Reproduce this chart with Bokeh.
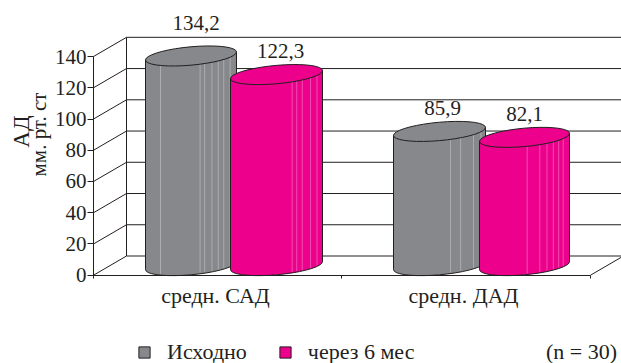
import numpy as np
from bokeh.core.properties import value
from bokeh.embed import file_html
from bokeh.models import FixedTicker, Label, Legend, LegendItem, LinearAxis
from bokeh.plotting import figure
from bokeh.resources import INLINE

# Blood pressure before treatment and after six months
categories = ["средн. САД", "средн. ДАД"]
baseline = [134.2, 85.9]
after_6m = [122.3, 82.1]
series_names = ["Исходно", "через 6 мес"]
y_ticks = [0, 20, 40, 60, 80, 100, 120, 140]

INK = "#231f20"
GREY = "#87888c"
PINK = "#ec008c"
SERIF = "Liberation Serif"

PX_PER_UNIT = 1.562          # vertical pixels per mm Hg
ZERO_PX = 274.7              # pixel row of the value 0 on the front plane
DEPTH_X, DEPTH_Y = 33, 19.2  # offset of the back wall, in pixels
LEFT, FLOOR_END, RIGHT = 93, 590, 621
LIFT = (DEPTH_Y / 2) / PX_PER_UNIT  # cylinders stand half way back
RY, TILT = 9.2, 4.0          # top ellipse half height and slant, in pixels


def row(py):
    """Value-axis coordinate of a pixel row."""
    return (ZERO_PX - py) / PX_PER_UNIT


p = figure(
    width=621, height=363, output_backend="svg", toolbar_location=None,
    x_range=(0, RIGHT), y_range=(row(363), row(0)),
    x_axis_location=None, y_axis_location=None,
    min_border=0, outline_line_color=None,
    background_fill_color="white", border_fill_color="white",
)
p.grid.visible = False

# Value axis pinned to the front plane
ya = LinearAxis(fixed_location=LEFT)
ya.ticker = FixedTicker(ticks=y_ticks)
ya.bounds = (y_ticks[0], y_ticks[-1])
ya.axis_line_color = INK
ya.major_tick_line_color = INK
ya.major_tick_out = 6
ya.major_tick_in = 0
ya.minor_tick_line_color = None
ya.major_label_standoff = 1
ya.major_label_text_font = SERIF
ya.major_label_text_font_size = "21px"
ya.major_label_text_color = INK
p.add_layout(ya, "left")

# Category axis: labels at group centres, tick marks between the groups
group_x = [215, 463]
xa = LinearAxis(fixed_location=0)
xa.ticker = FixedTicker(ticks=group_x, minor_ticks=[LEFT, 341, FLOOR_END])
xa.major_label_overrides = dict(zip(group_x, categories))
xa.bounds = (LEFT, FLOOR_END)
xa.axis_line_color = INK
xa.major_tick_line_color = None
xa.minor_tick_line_color = INK
xa.minor_tick_out = 3
xa.minor_tick_in = 0
xa.major_label_standoff = 2
xa.major_label_text_font = SERIF
xa.major_label_text_font_size = "22px"
xa.major_label_text_color = INK
p.add_layout(xa, "below")

# Back wall, side wall and floor
back_y = [v + DEPTH_Y / PX_PER_UNIT for v in y_ticks]
p.segment([LEFT + DEPTH_X] * len(back_y), back_y, [RIGHT] * len(back_y), back_y,
          line_color=INK, line_width=1)
p.segment([LEFT] * len(y_ticks), y_ticks, [LEFT + DEPTH_X] * len(y_ticks), back_y,
          line_color=INK, line_width=1)
p.segment([LEFT + DEPTH_X], [back_y[0]], [LEFT + DEPTH_X], [back_y[-1]],
          line_color=INK, line_width=1)
p.segment([FLOOR_END], [0], [FLOOR_END + DEPTH_X], [back_y[0]],
          line_color=INK, line_width=1)

# Horizontal extents of the cylinders and their facet edges (fractions of the width)
bar_spans = {
    "base": [(145, 236), (393, 485)],
    "after": [(230, 322), (479, 569)],
}
facets = {
    "base": [[.165, .6, .65, .73, .8, .86, .93], [.62, .73, .87, .95]],
    "after": [[.67, .72, .78, .87, .94], [.53, .67, .75, .82, .88, .93]],
}
label_gap = {"base": [24, 14], "after": [14, 14]}
label_dx = {"base": [5, 3], "after": [4, 0]}


def outlines(x0, x1, val):
    """Side wall and top ellipse of a cylinder of height val."""
    cx, a = (x0 + x1) / 2, (x1 - x0) / 2
    t = np.linspace(0, 2 * np.pi, 37)
    top = val + LIFT
    ex = cx + a * np.cos(t)
    ey = top + (TILT * np.cos(t) + RY * np.sin(t)) / PX_PER_UNIT
    low = np.linspace(np.pi, 2 * np.pi, 19)
    bx = cx + a * np.cos(low)
    by = LIFT + (TILT * np.cos(low) + RY * np.sin(low)) / PX_PER_UNIT
    side_x = np.r_[cx - a, bx, cx + a]
    side_y = np.r_[top - TILT / PX_PER_UNIT, by, top + TILT / PX_PER_UNIT]
    return side_x, side_y, ex, ey


def draw_series(key, values, color):
    renderer = None
    for i, val in enumerate(values):
        x0, x1 = bar_spans[key][i]
        sx, sy, ex, ey = outlines(x0, x1, val)
        renderer = p.patch(sx, sy, fill_color=color, line_color=INK, line_width=1)
        # Facet edges follow the front of the cylinder
        cx, a = (x0 + x1) / 2, (x1 - x0) / 2
        fx = np.array([x0 + f * (x1 - x0) for f in facets[key][i]])
        c = (fx - cx) / a
        s = -np.sqrt(1 - c ** 2)
        off = (TILT * c + RY * s) / PX_PER_UNIT
        p.segment(fx, LIFT + off + 0.6, fx, val + LIFT + off,
                  line_color="white", line_alpha=0.3, line_width=1)
        p.patch(ex, ey, fill_color=color, line_color=INK, line_width=1)
        p.text([cx + label_dx[key][i]],
               [val + LIFT + (RY + label_gap[key][i]) / PX_PER_UNIT],
               text=[f"{val:.1f}".replace(".", ",")],
               text_font=value(SERIF), text_font_size="21px", text_color=INK,
               text_align="center", text_baseline="middle")
    return renderer


base_r = draw_series("base", baseline, GREY)
after_r = draw_series("after", after_6m, PINK)

legend = Legend(
    items=[LegendItem(label=series_names[0], renderers=[base_r]),
           LegendItem(label=series_names[1], renderers=[after_r])],
    orientation="horizontal", location=(137, -2),
    padding=0, margin=0, spacing=31, label_standoff=16,
    glyph_width=14, glyph_height=14, label_height=14,
    background_fill_alpha=0, border_line_color=None,
    label_text_font=SERIF, label_text_font_size="22px", label_text_color=INK,
)
p.add_layout(legend)

# Two-line value axis title and the sample size note
for txt, x, py, size in [("АД", 21, 131, "23px"), ("мм. рт. ст", 38, 134, "21px")]:
    p.add_layout(Label(x=x, y=row(py), text=txt, angle=90, angle_units="deg",
                       text_font=SERIF, text_font_size=size, text_color=INK,
                       text_align="center", text_baseline="middle"))
p.add_layout(Label(x=581, y=row(351), text="(n = 30)", text_font=SERIF,
                   text_font_size="22px", text_color=INK,
                   text_align="center", text_baseline="middle"))

open("out.html", "w").write(file_html(p, INLINE))
